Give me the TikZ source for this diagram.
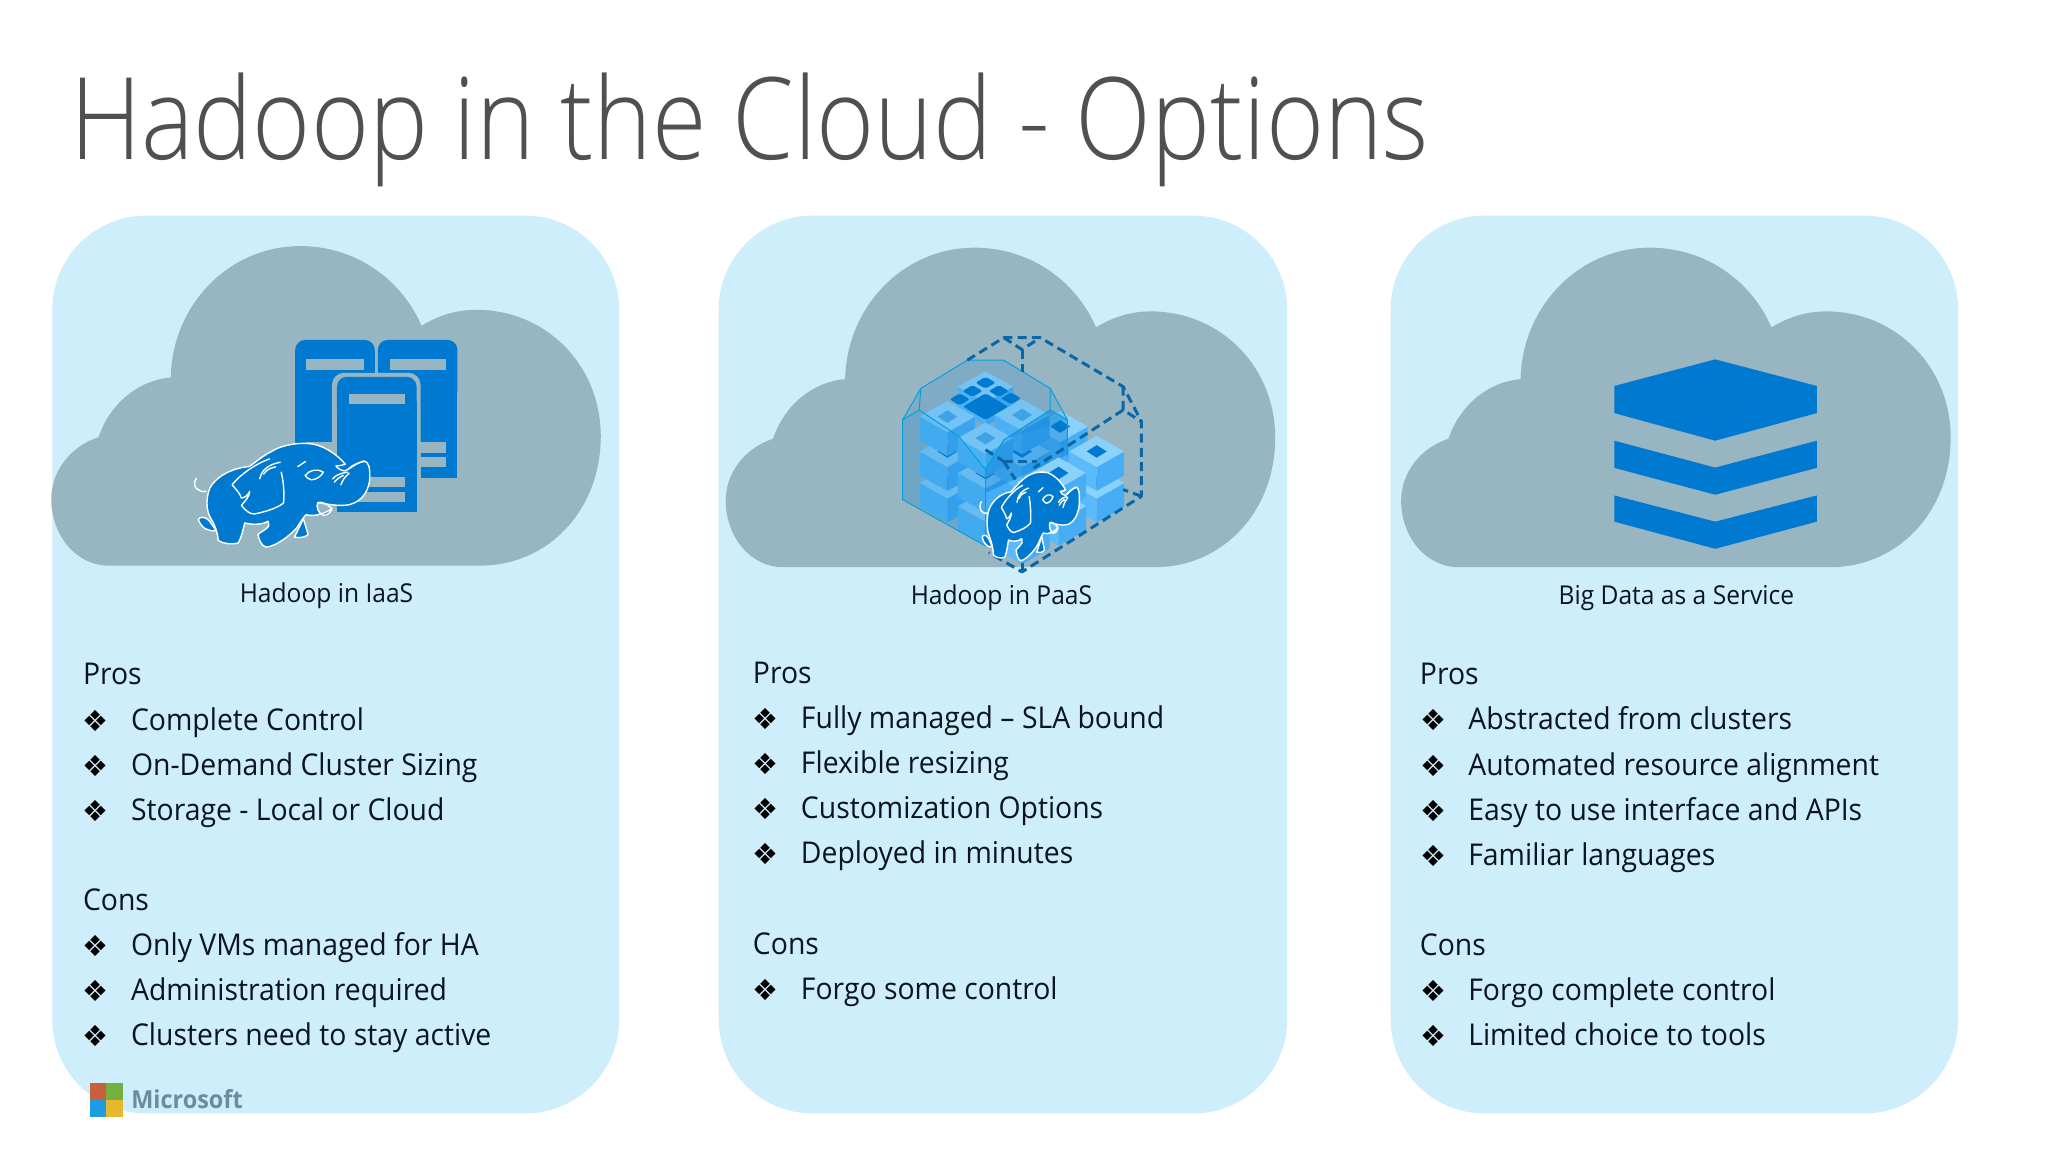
\documentclass[tikz,border=0pt]{standalone}
\usepackage{fontspec}
\setmainfont{Open Sans}[FakeStretch=0.945]
\newfontfamily\titlefont{Open Sans Light}[FakeStretch=0.87]
\newfontfamily\symfont{DejaVu Sans}
\definecolor{panelc}{HTML}{CFEEFB}
\definecolor{cloudc}{HTML}{98B6C2}
\definecolor{azure}{HTML}{007AD0}
\definecolor{inkc}{HTML}{0A1520}
\definecolor{titlec}{HTML}{505050}
\definecolor{dashc}{HTML}{0B66A6}
\definecolor{cubetop}{HTML}{8AD2FC}
\definecolor{cubeleft}{HTML}{5ABBFB}
\definecolor{cuberight}{HTML}{47AEF6}
\definecolor{mslogo}{HTML}{6C8C9C}
\definecolor{msred}{HTML}{C9603C}
\definecolor{msgreen}{HTML}{72B040}
\definecolor{msblue}{HTML}{1E9CE2}
\definecolor{msyellow}{HTML}{E9B72E}
\tikzset{
  panel/.style={fill=panelc,draw=none,rounded corners=47pt},
  bodytext/.style={anchor=base west,inner sep=0pt,text=inkc,font=\fontsize{15}{18}\selectfont},
  bulletmark/.style={anchor=base,inner sep=0pt,text=black,font=\symfont\fontsize{14.5}{15}\selectfont},
  captiontext/.style={anchor=base,inner sep=0pt,text=inkc,font=\fontsize{13}{15}\selectfont},
  dashline/.style={draw=dashc,line width=1.5pt,dash pattern=on 4.5pt off 2.6pt},
  hullline/.style={draw=azure!70!cyan,line width=0.5pt},
}
\newcommand{\cloudshape}[2]{%
  \fill[cloudc,shift={(#1,#2)}] (109,567) -- (482,567)
    .. controls (552,567) and (603.5,510) .. (603.5,437)
    .. controls (603.5,365) and (548,310) .. (478.5,310)
    .. controls (458,310) and (440,316) .. (423.5,326)
    .. controls (402,277) and (355,246) .. (301.5,246)
    .. controls (230,246) and (173,305) .. (171.5,378)
    .. controls (138,381) and (110,405) .. (99,438)
    .. controls (71,447) and (51.5,472) .. (51.5,500)
    .. controls (51.5,537) and (77,567) .. (109,567) -- cycle;}
\newcommand{\bitem}[4]{%
  \node[bulletmark] (#1b) at (#2-35,#3+1) {❖};
  \node[bodytext] (#1) at (#2,#3) {#4};}
% cube in crop coordinates: #1,#2 centre of top, #3 inlay colour or none
\newcommand{\cubelet}[3]{%
  \fill[cubeleft] (#1-83,#2) -- (#1,#2+47) -- (#1,#2+119) -- (#1-83,#2+72) -- cycle;
  \fill[cuberight] (#1+83,#2) -- (#1,#2+47) -- (#1,#2+119) -- (#1+83,#2+72) -- cycle;
  \fill[cubetop] (#1-83,#2) -- (#1,#2-47) -- (#1+83,#2) -- (#1,#2+47) -- cycle;
  \fill[#3] (#1-30,#2) -- (#1,#2-19) -- (#1+30,#2) -- (#1,#2+19) -- cycle;}
\newcommand{\diam}[4]{\fill[azure,rounded corners=1pt] (#1-#3,#2) -- (#1,#2-#4) -- (#1+#3,#2) -- (#1,#2+#4) -- cycle;}
% elephant in its own 600x360 coordinates
\newcommand{\elephant}[2]{%
\begin{scope}[#1]
  \def\wl{#2}
  \filldraw[azure,draw=white,line width=\wl,line join=round]
    (35,255) .. controls (40,245) and (55,245) .. (68,258) .. controls (75,270) and (85,280) .. (88,288) .. controls (65,292) and (45,280) .. (35,255) -- cycle;
  \filldraw[azure,draw=white,line width=\wl,line join=round]
    (325,308) -- (352,252) -- (366,300) .. controls (355,310) and (340,310) .. (325,308) -- cycle;
  \filldraw[azure,draw=white,line width=\wl,line join=round]
    (188,95) .. controls (205,85) and (225,65) .. (255,50)
    .. controls (285,30) and (340,20) .. (385,28)
    .. controls (425,38) and (460,65) .. (478,88)
    .. controls (470,92) and (460,92) .. (450,93)
    .. controls (455,100) and (465,108) .. (478,108)
    .. controls (495,100) and (515,82) .. (535,78)
    .. controls (550,80) and (553,105) .. (552,125)
    .. controls (552,165) and (530,200) .. (490,210)
    .. controls (460,216) and (425,208) .. (395,204)
    .. controls (390,215) and (395,235) .. (412,242)
    .. controls (425,242) and (435,232) .. (438,222)
    .. controls (420,235) and (385,248) .. (360,240)
    .. controls (345,255) and (335,280) .. (320,292)
    .. controls (295,315) and (265,335) .. (240,338)
    .. controls (225,335) and (218,315) .. (215,300)
    .. controls (225,290) and (240,285) .. (247,275)
    .. controls (248,268) and (246,262) .. (245,260)
    .. controls (225,272) and (195,270) .. (175,265)
    .. controls (170,285) and (165,310) .. (155,326)
    .. controls (135,330) and (110,328) .. (95,318)
    .. controls (95,300) and (85,270) .. (72,250)
    .. controls (58,225) and (58,190) .. (70,160)
    .. controls (85,130) and (130,100) .. (188,95) -- cycle;
  \draw[white,line width=\wl,line join=round,line cap=round]
    (250,72) .. controls (210,85) and (160,120) .. (137,150)
    .. controls (150,165) and (160,175) .. (165,190)
    .. controls (175,190) and (185,180) .. (190,170)
    .. controls (190,185) and (175,200) .. (165,212)
    .. controls (175,225) and (190,240) .. (205,238)
    .. controls (240,230) and (270,222) .. (292,205)
    .. controls (295,175) and (292,140) .. (285,112);
  \draw[white,line width=\wl,line join=round,line cap=round]
    (30,130) .. controls (20,140) and (22,160) .. (35,165) .. controls (42,170) and (50,172) .. (58,170);
  \draw[white,line width=\wl,line join=round,line cap=round]
    (220,132) .. controls (225,110) and (240,90) .. (282,82)
    (232,118) .. controls (240,105) and (250,100) .. (268,96)
    (335,95) -- (358,80)
    (357,122) .. controls (370,105) and (395,100) .. (412,112) .. controls (405,125) and (390,135) .. (375,135) .. controls (368,132) and (360,128) .. (357,122) -- cycle
    (440,132) .. controls (450,120) and (465,115) .. (485,112)
    (445,142) .. controls (455,130) and (465,125) .. (472,122)
    (465,150) .. controls (470,135) and (478,125) .. (490,115)
    (490,100) .. controls (500,90) and (520,82) .. (535,80)
    (395,204) .. controls (405,200) and (420,205) .. (438,222);
\end{scope}}
\begin{document}
\begin{tikzpicture}[x=0.49775pt,y=-0.49775pt]
\useasboundingbox (0,0) rectangle (2057.3,1157.3);
\fill[white] (0,0) rectangle (2057.3,1157.3);
% panels
\fill[panel] (52.5,216.6) rectangle (622,1118.5);
\fill[panel] (722,216.6) rectangle (1293,1118.5);
\fill[panel] (1397,216.6) rectangle (1967,1118.5);
% clouds
\cloudshape{0}{1.2}
\cloudshape{677.5}{2.8}
\cloudshape{1356}{2.8}
% title
\node[anchor=base west,inner sep=0pt,text=titlec,font=\titlefont\fontsize{57}{70}\selectfont] (title) at (70,160) {Hadoop in the Cloud - Options};
% servers
\begin{scope}[shift={(0.5,2.5)}]
\fill[azure,rounded corners=5pt] (296,339) -- (376,339) -- (376,500) -- (296,500) -- cycle;
\fill[azure] (296,400) rectangle (376,478);
\fill[azure,rounded corners=5pt] (379,339) -- (459,339) -- (459,400) -- (379,400) -- cycle;
\fill[azure] (379,370) rectangle (459,478);
\fill[cloudc] (307,358) rectangle (365,369);
\fill[cloudc] (391,358) rectangle (448,369);
\fill[cloudc] (307,442) rectangle (365,453);
\fill[cloudc] (391,442) rectangle (448,453);
\fill[cloudc] (391,457) rectangle (448,467);
\fill[cloudc,rounded corners=6pt] (333,372) -- (422,372) -- (422,478) -- (333,478) -- cycle;
\fill[cloudc] (333,440) rectangle (422,478);
\fill[azure,rounded corners=5pt] (338,376) -- (418,376) -- (418,420) -- (338,420) -- cycle;
\fill[azure] (338,400) rectangle (418,512);
\fill[cloudc] (350,393) rectangle (406,403);
\fill[cloudc] (350,477) rectangle (406,487);
\fill[cloudc] (350,492) rectangle (406,502);
\end{scope}
\elephant{shift={(187.5,437)},scale=0.3333}{0.7pt}
% block cube
\begin{scope}[shift={(895,328.5)},scale=0.3333]
  \cubelet{510}{300}{azure}
  \cubelet{620}{470}{azure}
  \cubelet{620}{375}{azure}
  \cubelet{170}{470}{azure}
  \cubelet{170}{375}{azure}
  \cubelet{285}{540}{azure}
  \cubelet{285}{440}{azure}
  \cubelet{395}{375}{azure}
  \cubelet{285}{180}{cubetop}
  \cubelet{395}{265}{azure!45!cubetop}
  \cubelet{170}{270}{azure!45!cubetop}
  \cubelet{285}{335}{azure!45!cubetop}
  \diam{285}{240}{68}{40}
  \diam{207}{218}{30}{18}
  \diam{246}{193}{30}{18}
  \diam{285}{168}{30}{18}
  \diam{325}{193}{30}{18}
  \diam{362}{215}{30}{18}
  % glass hull
  \fill[azure,opacity=0.16] (35,280) -- (90,185) -- (230,100) -- (340,100) -- (480,185) -- (532,280) -- (340,340) -- (285,430) -- (205,330) -- (85,250) -- cycle;
  \fill[azure,opacity=0.26] (35,280) -- (85,250) -- (205,330) -- (285,430) -- (285,660) -- (35,520) -- cycle;
  \fill[azure,opacity=0.42] (285,430) -- (340,340) -- (480,250) -- (532,280) -- (532,385) -- (285,500) -- cycle;
  \draw[hullline,line join=round] (35,280) -- (90,185) -- (230,100) -- (340,100) -- (480,185) -- (532,280) -- (532,385);
  \draw[hullline,line join=round] (35,280) -- (35,520) -- (285,660) -- (285,430) -- (205,330) -- (85,250) -- (35,280);
  \draw[hullline,line join=round] (85,250) -- (90,185) (285,430) -- (340,340) -- (480,250) -- (532,280) (480,250) -- (480,185);
  \cubelet{505}{540}{cubetop}
  \cubelet{505}{440}{azure}
  \cubelet{395}{596}{cubetop}
  % dashed bounding box
  \draw[dashline,line join=round] (230,100) -- (340,32) -- (450,32) -- (700,180) -- (755,285) -- (755,510) -- (395,738) -- (295,680);
  \draw[dashline] (340,32) -- (395,68) -- (450,32);
  \draw[dashline] (395,68) -- (395,135);
  \draw[dashline] (700,180) -- (700,250) -- (755,285);
  \draw[dashline] (700,250) -- (430,425);
  \draw[dashline] (340,405) -- (440,405);
  \draw[dashline] (340,405) -- (375,460);
  \draw[dashline] (285,370) -- (340,405);
  \draw[dashline] (755,510) -- (700,490);
  \draw[dashline] (395,738) -- (395,685);
\end{scope}
\elephant{shift={(980,467)},xscale=0.189,yscale=0.285}{0.7pt}
% stack
\fill[azure] (1621.6,387.7) -- (1723,361) -- (1825,387.7) -- (1825,415) -- (1723,442.7) -- (1621.6,415) -- cycle;
\fill[azure] (1621.6,442.7) -- (1723,469.7) -- (1825,442.7) -- (1825,470) -- (1723,497) -- (1621.6,470) -- cycle;
\fill[azure] (1621.6,497.7) -- (1723,524) -- (1825,497.7) -- (1825,524) -- (1723,551.3) -- (1621.6,524) -- cycle;
% captions
\node[captiontext] (cap1) at (328,605.7) {Hadoop in IaaS};
\node[captiontext] (cap2) at (1006,607) {Hadoop in PaaS};
\node[captiontext] (cap3) at (1684,607) {Big Data as a Service};
% panel 1
\node[bodytext] (p1pros) at (83,688) {Pros};
\bitem{p1a}{131.3}{733.5}{Complete Control}
\bitem{p1b}{131.3}{779}{On-Demand Cluster Sizing}
\bitem{p1c}{131.3}{824}{Storage - Local or Cloud}
\node[bodytext] (p1cons) at (83,914.5) {Cons};
\bitem{p1d}{131.3}{959.5}{Only VMs managed for HA}
\bitem{p1e}{131.3}{1005}{Administration required}
\bitem{p1f}{131.3}{1050}{Clusters need to stay active}
% panel 2
\node[bodytext] (p2pros) at (756,686.7) {Pros};
\bitem{p2a}{804.2}{732}{Fully managed – SLA bound}
\bitem{p2b}{804.2}{777.3}{Flexible resizing}
\bitem{p2c}{804.2}{822.6}{Customization Options}
\bitem{p2d}{804.2}{867.9}{Deployed in minutes}
\node[bodytext] (p2cons) at (756,958.5) {Cons};
\bitem{p2e}{804.2}{1003.8}{Forgo some control}
% panel 3
\node[bodytext] (p3pros) at (1426,688) {Pros};
\bitem{p3a}{1474.6}{733.3}{Abstracted from clusters}
\bitem{p3b}{1474.6}{778.6}{Automated resource alignment}
\bitem{p3c}{1474.6}{824}{Easy to use interface and APIs}
\bitem{p3d}{1474.6}{869}{Familiar languages}
\node[bodytext] (p3cons) at (1426,959.8) {Cons};
\bitem{p3e}{1474.6}{1005}{Forgo complete control}
\bitem{p3f}{1474.6}{1050.4}{Limited choice to tools}
% logo
\fill[msred] (90.7,1088) rectangle (106.6,1104.5);
\fill[msgreen] (106.9,1088) rectangle (123.3,1104.5);
\fill[msblue] (90.7,1104.8) rectangle (106.6,1121.7);
\fill[msyellow] (106.9,1104.8) rectangle (123.3,1121.7);
\node[anchor=base west,inner sep=0pt,text=mslogo,font=\fontsize{12.4}{16}\selectfont\bfseries] (mslogo) at (131.5,1114) {Microsoft};
\end{tikzpicture}
\end{document}
